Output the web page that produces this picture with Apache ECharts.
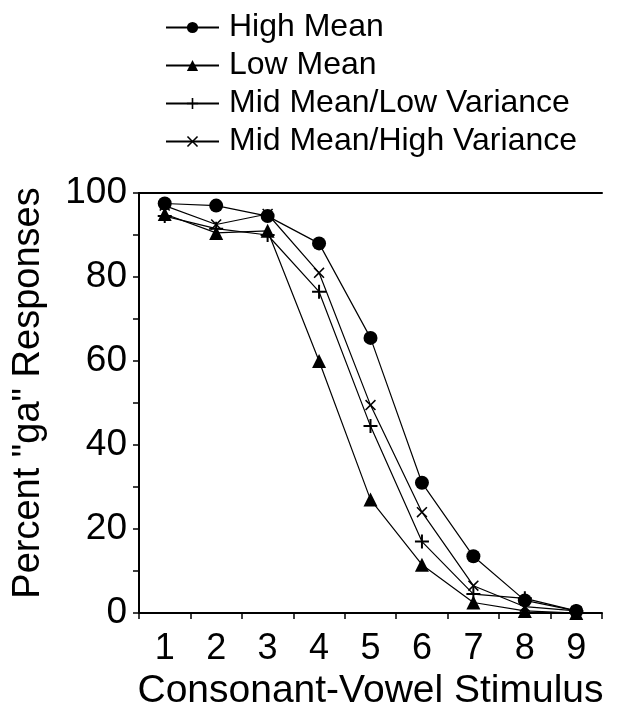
<!DOCTYPE html>
<html>
<head>
<meta charset="utf-8">
<script src="https://cdn.jsdelivr.net/npm/echarts@6/dist/echarts.min.js"></script>
<style>html,body{margin:0;padding:0;background:#fff}#c{width:619px;height:709px}</style>
</head>
<body>
<div id="c"></div>
<script>
const categories = ['1','2','3','4','5','6','7','8','9'];
const highMean = [97.5, 97, 94.5, 88, 65.5, 31, 13.5, 3, 0.5];
const lowMean = [95, 90.5, 91, 60, 27, 11.5, 2.5, 0.5, 0];
const midLowVar = [94.5, 91.5, 90, 76.5, 44.5, 17, 4.5, 3.5, 0.5];
const midHighVar = [97, 92.5, 95, 81, 49.5, 24, 6.5, 1.5, 0.5];
const seriesNames = ['High Mean','Low Mean','Mid Mean/Low Variance','Mid Mean/High Variance'];
const yTicks = [0, 20, 40, 60, 80, 100];

const FONT = '"Liberation Sans", Arial, Helvetica, sans-serif';
const plusPath = 'path://M6,0H8V6H14V8H8V14H6V8H0V6H6Z';
const crossPath = 'path://M0,1L1,0L5,4L9,0L10,1L6,5L10,9L9,10L5,6L1,10L0,9L4,5Z';

function mk(name, data, symbol, size) {
  return {
    name: name, type: 'line', data: data,
    symbol: symbol, symbolSize: size,
    itemStyle: {color: '#000'},
    lineStyle: {color: '#000', width: 1.2},
    emphasis: {disabled: true},
    z: 2
  };
}

const chart = echarts.init(document.getElementById('c'), null, {renderer: 'canvas'});
chart.setOption({
  animation: false,
  backgroundColor: '#fff',
  legend: {
    orient: 'vertical', left: 160, top: 6,
    itemWidth: 53, itemHeight: 14, itemGap: 5,
    textStyle: {fontFamily: FONT, fontSize: 32, color: '#000', lineHeight: 33, padding: [0, 0, 0, 5]},
    data: seriesNames
  },
  grid: {left: 139, right: 17, top: 193, bottom: 96, containLabel: false, outerBoundsMode: 'none'},
  xAxis: [{
    type: 'category', data: categories, boundaryGap: true,
    name: 'Consonant-Vowel Stimulus', nameLocation: 'middle', nameGap: 59,
    nameTextStyle: {fontFamily: FONT, fontSize: 39, color: '#000'},
    axisLine: {lineStyle: {color: '#000', width: 2}},
    axisTick: {show: true, length: 6, lineStyle: {color: '#000', width: 1.5}, alignWithLabel: false},
    axisLabel: {fontFamily: FONT, fontSize: 36, color: '#000', margin: 18},
    splitLine: {show: false}
  }, {
    type: 'category', data: categories, position: 'top',
    axisLine: {lineStyle: {color: '#000', width: 2}},
    axisTick: {show: false}, axisLabel: {show: false}
  }],
  yAxis: {
    type: 'value', min: 0, max: 100, interval: 10,
    name: 'Percent "ga" Responses', nameLocation: 'middle', nameGap: 91,
    nameTextStyle: {fontFamily: FONT, fontSize: 38, color: '#000', padding: [0, 0, 0, 20]},
    axisLine: {show: true, lineStyle: {color: '#000', width: 2}},
    axisTick: {show: true, length: 6, lineStyle: {color: '#000', width: 1.5}},
    axisLabel: {fontFamily: FONT, fontSize: 37, color: '#000', margin: 12,
      formatter: function (v) { return yTicks.indexOf(v) >= 0 ? String(v) : ''; }},
    splitLine: {show: false}
  },
  series: [
    mk(seriesNames[0], highMean, 'circle', 14),
    mk(seriesNames[1], lowMean, 'triangle', 14),
    mk(seriesNames[2], midLowVar, plusPath, 14),
    mk(seriesNames[3], midHighVar, crossPath, 11)
  ]
});
</script>
</body>
</html>
